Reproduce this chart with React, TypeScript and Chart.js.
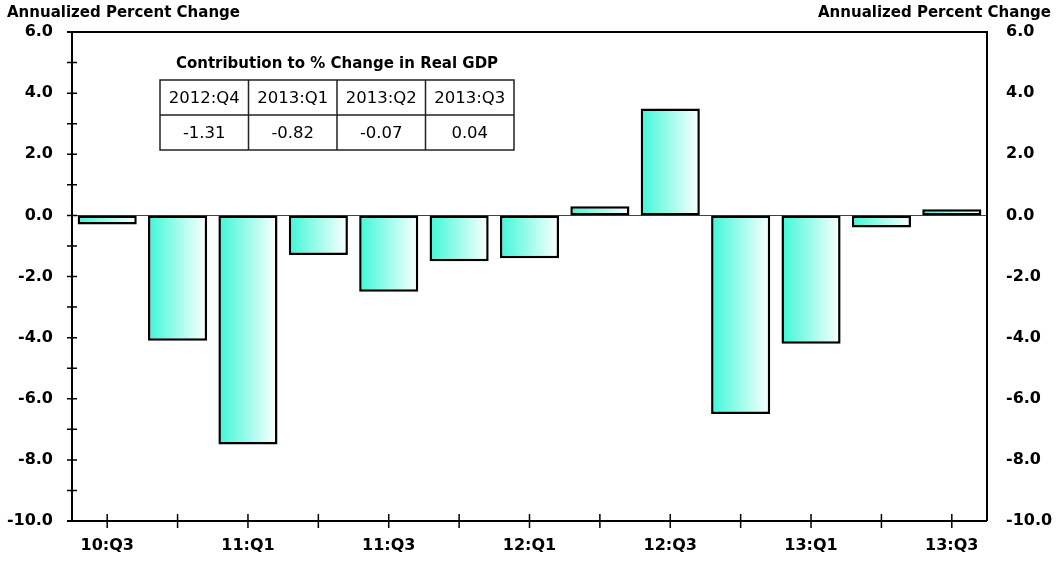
import { useEffect, useRef } from 'react';
import { Chart, registerables } from 'chart.js';

Chart.register(...registerables);

const categories = ['10:Q3', '10:Q4', '11:Q1', '11:Q2', '11:Q3', '11:Q4', '12:Q1', '12:Q2', '12:Q3', '12:Q4', '13:Q1', '13:Q2', '13:Q3'];
const values = [-0.3, -4.1, -7.5, -1.3, -2.5, -1.5, -1.4, 0.3, 3.5, -6.5, -4.2, -0.4, 0.2];
const yMin = -10;
const yMax = 6;
const axisTitle = 'Annualized Percent Change';
const tableTitle = 'Contribution to % Change in Real GDP';
const tableQuarters = ['2012:Q4', '2013:Q1', '2013:Q2', '2013:Q3'];
const tableValues = ['-1.31', '-0.82', '-0.07', '0.04'];

const FONT = '"DejaVu Sans", "Liberation Sans", Arial, sans-serif';
const BAR_LEFT = '#3ff7d8';
const BAR_RIGHT = '#ffffff';

const framePlugin = {
  id: 'frame',
  beforeDatasetsDraw(chart: any) {
    const ctx = chart.ctx;
    const { left, right } = chart.chartArea;
    const y0 = chart.scales.y.getPixelForValue(0);
    ctx.save();
    ctx.strokeStyle = '#444';
    ctx.lineWidth = 1;
    ctx.beginPath();
    ctx.moveTo(left, Math.round(y0) + 0.5);
    ctx.lineTo(right, Math.round(y0) + 0.5);
    ctx.stroke();
    ctx.restore();
    // per-bar horizontal gradient
    const meta = chart.getDatasetMeta(0);
    meta.data.forEach((el: any) => {
      const { x, width } = el.getProps(['x', 'width'], true);
      const g = ctx.createLinearGradient(x - width / 2, 0, x + width / 2, 0);
      g.addColorStop(0, BAR_LEFT);
      g.addColorStop(1, BAR_RIGHT);
      el.options = Object.assign({}, el.options, { backgroundColor: g });
    });
  },
  afterDraw(chart: any) {
    const ctx = chart.ctx;
    const { left, right, top, bottom } = chart.chartArea;
    const ys = chart.scales.y;
    const xs = chart.scales.x;
    ctx.save();
    ctx.strokeStyle = '#000';
    ctx.lineWidth = 2;
    ctx.beginPath();
    ctx.moveTo(left - 5, top);
    ctx.lineTo(right, top);
    ctx.lineTo(right, bottom);
    ctx.moveTo(left - 5, bottom);
    ctx.lineTo(right, bottom);
    ctx.moveTo(left, top);
    ctx.lineTo(left, bottom);
    ctx.stroke();
    ctx.lineWidth = 1.5;
    ctx.beginPath();
    for (let v = yMin; v <= yMax; v++) {
      const py = ys.getPixelForValue(v);
      ctx.moveTo(left - 5, py);
      ctx.lineTo(left + 5, py);
    }
    for (let i = 0; i < categories.length; i++) {
      const px = xs.getPixelForValue(i);
      ctx.moveTo(px, bottom - 7);
      ctx.lineTo(px, bottom + 7);
    }
    ctx.stroke();

    // axis titles
    ctx.fillStyle = '#000';
    ctx.font = 'bold 15px ' + FONT;
    ctx.textBaseline = 'alphabetic';
    ctx.textAlign = 'left';
    ctx.fillText(axisTitle, 7, 17);
    ctx.textAlign = 'right';
    ctx.fillText(axisTitle, 1051, 17);

    // contribution table
    const tx = left + 88;
    const ty = top + 48;
    const cw = 88.5;
    const rh = 35;
    const tw = cw * tableQuarters.length;
    ctx.textAlign = 'center';
    ctx.font = 'bold 15px ' + FONT;
    ctx.fillText(tableTitle, tx + tw / 2, ty - 12);
    ctx.lineWidth = 1.5;
    ctx.strokeStyle = '#222';
    ctx.strokeRect(tx, ty, tw, rh * 2);
    ctx.beginPath();
    ctx.moveTo(tx, ty + rh);
    ctx.lineTo(tx + tw, ty + rh);
    for (let i = 1; i < tableQuarters.length; i++) {
      ctx.moveTo(tx + cw * i, ty);
      ctx.lineTo(tx + cw * i, ty + rh * 2);
    }
    ctx.stroke();
    ctx.font = '16.5px ' + FONT;
    ctx.textBaseline = 'middle';
    tableQuarters.forEach((q, i) => {
      ctx.fillText(q, tx + cw * i + cw / 2, ty + rh / 2 + 1);
      ctx.fillText(tableValues[i], tx + cw * i + cw / 2, ty + rh * 1.5 + 1);
    });
    ctx.restore();
  },
};

export default function App() {
  const ref = useRef<HTMLCanvasElement>(null);
  useEffect(() => {
    if (!ref.current) return;
    const tickFont = { family: FONT, size: 16, weight: 'bold' as const };
    const yTickCb = (v: any) => (Number(v) % 2 === 0 ? Number(v).toFixed(1) : '');
    const chart = new Chart(ref.current, {
      type: 'bar',
      data: {
        labels: categories,
        datasets: [
          {
            data: values,
            backgroundColor: BAR_LEFT,
            borderColor: '#000',
            borderWidth: 2.5,
            borderSkipped: false,
            categoryPercentage: 1,
            barPercentage: 0.84,
          },
        ],
      },
      options: {
        responsive: false,
        animation: false,
        layout: { padding: { top: 32, left: 0, right: 0, bottom: 0 } },
        plugins: { legend: { display: false }, tooltip: { enabled: false } },
        scales: {
          x: {
            grid: { display: false, drawTicks: false },
            border: { display: false },
            ticks: {
              autoSkip: false,
              maxRotation: 0,
              padding: 15,
              color: '#000',
              font: tickFont,
              callback: (_v: any, i: number) => (i % 2 === 0 ? categories[i] : ''),
            },
            afterFit: (s: any) => {
              s.height = 48;
            },
          },
          y: {
            position: 'left',
            min: yMin,
            max: yMax,
            grid: { display: false, drawTicks: false },
            border: { display: false },
            ticks: { stepSize: 1, padding: 19, color: '#000', font: tickFont, callback: yTickCb },
            afterFit: (s: any) => {
              s.width = 72;
            },
          },
          y2: {
            position: 'right',
            min: yMin,
            max: yMax,
            grid: { display: false, drawTicks: false },
            border: { display: false },
            ticks: { stepSize: 1, padding: 19, color: '#000', font: tickFont, callback: yTickCb },
            afterFit: (s: any) => {
              s.width = 71;
            },
          },
        },
      },
      plugins: [framePlugin],
    });
    return () => chart.destroy();
  }, []);
  return (
    <div style={{ position: 'absolute', left: 0, top: 0, width: 1058, height: 569, background: '#fff' }}>
      <canvas ref={ref} width={1058} height={569} style={{ display: 'block' }} />
    </div>
  );
}
